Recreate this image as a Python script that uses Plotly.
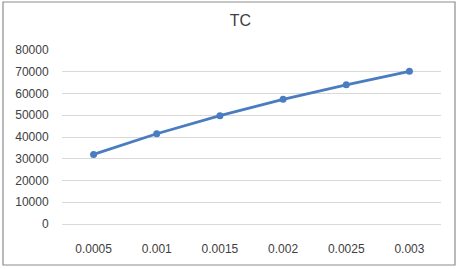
import plotly.graph_objects as go

categories = ["0.0005", "0.001", "0.0015", "0.002", "0.0025", "0.003"]
tc_values = [32000, 41500, 49800, 57300, 64000, 70200]
y_ticks = [0, 10000, 20000, 30000, 40000, 50000, 60000, 70000, 80000]

W, H = 458, 269
ml, mr, mt, mb = 62, 17, 50, 45
pw, ph = W - ml - mr, H - mt - mb

def px_x(x):
    return (x - ml) / pw

def px_y(y):
    return (H - mb - y) / ph

fig = go.Figure()
fig.add_trace(go.Scatter(
    x=categories, y=tc_values, mode="lines+markers",
    line=dict(color="#4a7cc0", width=2.8),
    marker=dict(color="#4a7cc0", size=7),
    showlegend=False,
))

fig.update_layout(
    width=W, height=H,
    margin=dict(l=ml, r=mr, t=mt, b=mb),
    paper_bgcolor="white", plot_bgcolor="white",
    font=dict(family="Liberation Sans, Arial, sans-serif", size=12, color="#404040"),
    title=dict(text="TC", x=0.525, xanchor="center", y=1 - 20 / H, yanchor="middle",
               font=dict(size=16, color="#404040")),
    xaxis=dict(type="category", range=[-0.5, 5.5], showgrid=False,
               showline=True, linecolor="#d9d9d9", linewidth=1,
               ticks="outside", ticklen=14, tickcolor="rgba(0,0,0,0)",
               tickfont=dict(size=12)),
    yaxis=dict(range=[0, 80000], tickvals=y_ticks, ticktext=[str(v) for v in y_ticks],
               showgrid=True, gridcolor="#d9d9d9", gridwidth=1, zeroline=False,
               showline=False, ticks="outside", ticklen=10, tickcolor="rgba(0,0,0,0)",
               tickfont=dict(size=12)),
    shapes=[dict(type="rect", xref="paper", yref="paper",
                 x0=px_x(3), x1=px_x(455), y0=px_y(2), y1=px_y(265),
                 line=dict(color="#8c8c8c", width=1.2), fillcolor="rgba(0,0,0,0)")],
)

fig.write_html("out.html", config={"displayModeBar": False},
               post_script="document.body.style.margin='0';")
